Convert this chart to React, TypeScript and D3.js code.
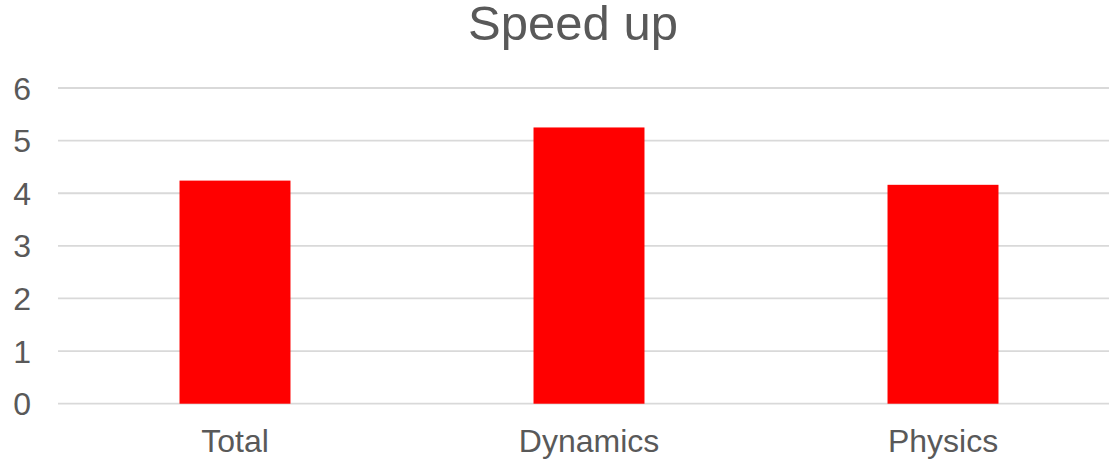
import React from "react";
import * as d3 from "d3";

const categories = ["Total", "Dynamics", "Physics"];
const speedups = [4.24, 5.25, 4.16];
const yTicks = [0, 1, 2, 3, 4, 5, 6];
const title = "Speed up";

const W = 1109;
const H = 459;
const FONT = "'Liberation Sans', Arial, sans-serif";
const TEXT = "#595959";

export default function App() {
  const plotLeft = 58;
  const band = 354;
  const x = d3
    .scaleBand<string>()
    .domain(categories)
    .range([plotLeft, plotLeft + band * categories.length])
    .paddingInner(1 - 1 / 3.19)
    .paddingOuter((1 - 1 / 3.19) / 2);
  const y = d3.scaleLinear().domain([0, 6]).range([403.7, 88]);

  return (
    <svg
      width={W}
      height={H}
      style={{ position: "absolute", left: 0, top: 0, background: "#fff" }}
      fontFamily={FONT}
    >
      <text x={573} y={40} textAnchor="middle" fontSize={49} fill={TEXT}>
        {title}
      </text>
      {yTicks.map((t) => (
        <g key={t}>
          <line
            x1={plotLeft}
            x2={W}
            y1={y(t)}
            y2={y(t)}
            stroke="#d9d9d9"
            strokeWidth={1.8}
          />
          <text
            x={31}
            y={y(t)}
            dy="0.36em"
            textAnchor="end"
            fontSize={32}
            fill={TEXT}
          >
            {t}
          </text>
        </g>
      ))}
      {categories.map((c, i) => (
        <rect
          key={c}
          x={x(c)}
          width={x.bandwidth()}
          y={y(speedups[i])}
          height={y(0) - y(speedups[i])}
          fill="#ff0000"
        />
      ))}
      {categories.map((c) => (
        <text
          key={c}
          x={(x(c) ?? 0) + x.bandwidth() / 2}
          y={452}
          textAnchor="middle"
          fontSize={32}
          fill={TEXT}
        >
          {c}
        </text>
      ))}
    </svg>
  );
}
